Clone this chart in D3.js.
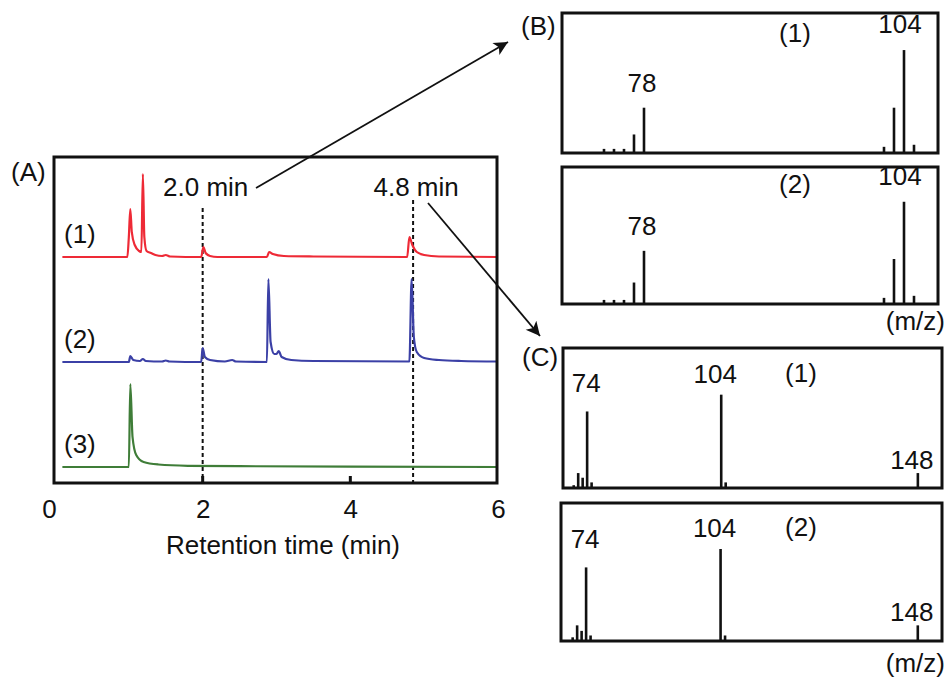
<!DOCTYPE html>
<html>
<head>
<meta charset="utf-8">
<script src="https://cdn.jsdelivr.net/npm/d3@7"></script>
<style>
	body { margin: 0; background: #fff; }
	text { font-family: "Liberation Sans", Arial, sans-serif; fill: #111; }
</style>
</head>
<body>
<div id="chart-bg"></div>
<script>
// chromatogram traces, [time (min), signal]
var trace1 = [[0.1, 0], [0.98, 0], [1.0, 20], [1.02, 48], [1.04, 25], [1.08, 12], [1.14, 6], [1.17, 5], [1.19, 83], [1.21, 20], [1.24, 6], [1.3, 4], [1.36, 2], [1.45, 1], [1.5, 2], [1.56, 0.5], [1.98, 0], [2.01, 10], [2.04, 4], [2.1, 1], [2.2, 0], [2.87, 0], [2.9, 5], [2.95, 3], [3.1, 1], [3.5, 0.5], [4.77, 0], [4.8, 20], [4.84, 12], [4.9, 5], [5.0, 2], [5.2, 0.5], [6.0, 0]];
var trace2 = [[0.1, 0], [1.0, 0], [1.02, 6], [1.06, 2], [1.15, 1], [1.19, 3], [1.23, 1], [1.45, 0.5], [1.5, 1.5], [1.55, 0.5], [1.98, 0], [2.0, 14], [2.03, 5], [2.1, 2], [2.3, 0.5], [2.4, 2], [2.45, 0.5], [2.87, 0], [2.89, 83], [2.92, 20], [2.97, 8], [3.0, 8], [3.03, 11], [3.07, 5], [3.2, 2], [3.5, 1], [4.8, 0.5], [4.83, 83], [4.86, 25], [4.9, 10], [5.0, 4], [5.2, 2], [5.5, 1], [6.0, 0.5]];
var trace3 = [[0.1, 0], [1.0, 0], [1.02, 83], [1.05, 30], [1.1, 12], [1.2, 5], [1.4, 2.5], [1.8, 1.2], [2.5, 0.8], [4.0, 0.4], [6.0, 0]];
var traceNames = ["(1)", "(2)", "(3)"];
var timeTicks = [0, 2, 4, 6];
var markTimes = [2.0, 4.85];
var markLabels = ["2.0 min", "4.8 min"];

// mass spectra, [m/z, relative intensity]
var specB1 = [[74, 4], [75, 4], [76, 4], [77, 18], [78, 44], [102, 6], [103, 44], [104, 100], [105, 8]];
var specB2 = [[74, 4], [75, 4], [76, 4], [77, 21], [78, 52], [102, 6], [103, 44], [104, 100], [105, 8]];
var specC1 = [[71, 3], [72, 16], [73, 11], [74, 82], [75, 6], [104, 100], [105, 6], [148, 16]];
var specC2 = [[71, 4], [72, 17], [73, 11], [74, 80], [75, 6], [104, 100], [105, 6], [148, 17]];
var labelsB = [78, 104];
var labelsC = [74, 104, 148];

var W = 948, H = 679;
var FS = "26px";
var svg = d3.
select("#chart-bg").
append("svg").
attr("width", W).
attr("height", H);

// ---- panel A
var ax = {left: 55, right: 498, top: 157, bottom: 483};
var xScale = d3.scaleLinear().domain([0, 6]).range([ax.left, ax.right]);
var yScale = d3.scaleLinear().domain([0, ax.bottom - ax.top]).range([ax.bottom, ax.top]);
var traces = [
	{data: trace1, offset: 226, color: "#ee2a36"},
	{data: trace2, offset: 121, color: "#3b40a6"},
	{data: trace3, offset: 16, color: "#3f7d38"}
];

markTimes.forEach(function (t, i) {
	svg.
	append("line").
	attr("x1", xScale(t)).
	attr("x2", xScale(t)).
	attr("y1", i === 0 ? 208 : 200).
	attr("y2", ax.bottom).
	attr("stroke", "#111").
	attr("stroke-width", 2).
	attr("stroke-dasharray", "4,3");
	svg.
	append("text").
	text(markLabels[i]).
	attr("x", xScale(t) + 3).
	attr("y", 196).
	attr("text-anchor", "middle").
	style("font-size", FS);
});

traces.forEach(function (tr, i) {
	var line = d3.
	line().
	x(function (d) {return xScale(d[0]);}).
	y(function (d) {return yScale(d[1] + tr.offset);}).
	curve(d3.curveMonotoneX);
	svg.
	append("path").
	attr("d", line(tr.data)).
	attr("fill", "none").
	attr("stroke", tr.color).
	attr("stroke-width", 2.2);
	svg.
	append("text").
	text(traceNames[i]).
	attr("x", 64).
	attr("y", yScale(tr.offset) - 14).
	style("font-size", FS);
});

svg.
append("rect").
attr("x", ax.left - 1).
attr("y", ax.top).
attr("width", ax.right - ax.left).
attr("height", ax.bottom - ax.top).
attr("fill", "none").
attr("stroke", "#111").
attr("stroke-width", 3);

var xAxis = d3.
axisBottom(xScale).
tickValues(timeTicks).
tickFormat(d3.format("d")).
tickSize(0).
tickPadding(16);

var gx = svg.
append("g").
attr("transform", "translate(0," + ax.bottom + ")").
call(xAxis);
gx.select(".domain").remove();
gx.selectAll("text").
attr("dy", null).
attr("y", 35).
attr("dx", function (d) {return d === 0 ? -6 : 0;}).
style("font-size", FS).
style("font-family", "'Liberation Sans', Arial, sans-serif").
attr("fill", "#111");

svg.
selectAll(".tickA").
data([2, 4]).
enter().
append("line").
attr("x1", function (d) {return xScale(d);}).
attr("x2", function (d) {return xScale(d);}).
attr("y1", ax.bottom).
attr("y2", ax.bottom - 7).
attr("stroke", "#111").
attr("stroke-width", 3);

svg.
append("text").
text("Retention time (min)").
attr("x", 283).
attr("y", 554).
attr("text-anchor", "middle").
style("font-size", FS);

svg.
append("text").
text("(A)").
attr("x", 11).
attr("y", 181).
style("font-size", FS);

// ---- spectra
function drawSpectrum(spec, box, domain, yMax, labels, gaps, name, nameX, nameY) {
	var sx = d3.scaleLinear().domain(domain).range([box.left, box.right]);
	var sy = d3.scaleLinear().domain([0, yMax]).range([box.bottom, box.top]);
	svg.
	selectAll(null).
	data(spec).
	enter().
	append("line").
	attr("x1", function (d) {return sx(d[0]);}).
	attr("x2", function (d) {return sx(d[0]);}).
	attr("y1", sy(0)).
	attr("y2", function (d) {return sy(d[1]);}).
	attr("stroke", "#111").
	attr("stroke-width", 2.6);
	svg.
	append("rect").
	attr("x", box.left).
	attr("y", box.top).
	attr("width", box.right - box.left).
	attr("height", box.bottom - box.top).
	attr("fill", "none").
	attr("stroke", "#111").
	attr("stroke-width", 3);
	spec.filter(function (d) {return labels.indexOf(d[0]) >= 0;}).forEach(function (d) {
		var k = labels.indexOf(d[0]);
		svg.
		append("text").
		text(d[0]).
		attr("x", sx(d[0]) + gaps[k][0]).
		attr("y", sy(d[1]) - gaps[k][1]).
		attr("text-anchor", "middle").
		style("font-size", FS);
	});
	svg.
	append("text").
	text(name).
	attr("x", nameX).
	attr("y", nameY).
	attr("text-anchor", "middle").
	style("font-size", FS);
}

var gapsB = [[-2, 16], [-4, 17]];
var gapsC = [[-1, 19], [-6, 12], [-6, 4]];
drawSpectrum(specB1, {left: 562, right: 938, top: 13, bottom: 153}, [69.8, 107.4], 136, labelsB, gapsB, "(1)", 795, 42);
drawSpectrum(specB2, {left: 562, right: 938, top: 167, bottom: 304}, [69.8, 107.4], 134, labelsB, gapsB, "(2)", 795, 193);
drawSpectrum(specC1, {left: 563, right: 942, top: 348, bottom: 488}, [68.6, 153.4], 150, labelsC, gapsC, "(1)", 801, 382);
drawSpectrum(specC2, {left: 561, right: 942, top: 503, bottom: 641}, [68.4, 153.4], 150, labelsC, gapsC, "(2)", 801, 536);

[["(B)", 521, 35], ["(C)", 522, 366]].forEach(function (d) {
	svg.
	append("text").
	text(d[0]).
	attr("x", d[1]).
	attr("y", d[2]).
	style("font-size", FS);
});

[330, 672].forEach(function (y) {
	svg.
	append("text").
	text("(m/z)").
	attr("x", 945).
	attr("y", y).
	attr("text-anchor", "end").
	style("font-size", FS);
});

// ---- arrows
svg.
append("defs").
append("marker").
attr("id", "head").
attr("viewBox", "0 0 10 10").
attr("refX", 10).
attr("refY", 5).
attr("markerWidth", 20).
attr("markerHeight", 14).
attr("markerUnits", "userSpaceOnUse").
attr("orient", "auto").
append("path").
attr("d", "M0,0 L10,5 L0,10 L2.5,5 Z").
attr("fill", "#111");

[[256, 188, 508, 42], [428, 203, 540, 336]].forEach(function (a) {
	svg.
	append("line").
	attr("x1", a[0]).
	attr("y1", a[1]).
	attr("x2", a[2]).
	attr("y2", a[3]).
	attr("stroke", "#111").
	attr("stroke-width", 1.8).
	attr("marker-end", "url(#head)");
});
</script>
</body>
</html>
